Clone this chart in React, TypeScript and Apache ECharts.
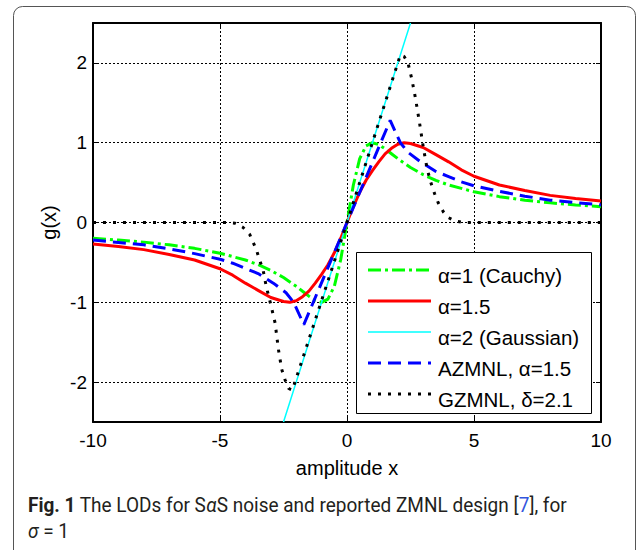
import React, { useEffect, useRef } from "react";
import * as echarts from "echarts";

// ---- data ----
const cauchyX = [-10, -9, -8, -7, -6, -5, -4, -3.5, -3, -2.5, -2, -1.75, -1.5, -1.25, -1, -0.75, -0.5, -0.25, 0, 0.25, 0.5, 0.75, 1, 1.25, 1.5, 1.75, 2, 2.5, 3, 3.5, 4, 5, 6, 7, 8, 9, 10];
const cauchyY = [-0.198, -0.22, -0.246, -0.28, -0.324, -0.385, -0.47, -0.528, -0.6, -0.69, -0.8, -0.862, -0.923, -0.976, -1.0, -0.96, -0.8, -0.47, 0, 0.47, 0.8, 0.96, 1.0, 0.976, 0.923, 0.862, 0.8, 0.69, 0.6, 0.528, 0.47, 0.385, 0.324, 0.28, 0.246, 0.22, 0.198];

const alpha15X = [-10, -9, -8, -7, -6, -5, -4.5, -4, -3.5, -3, -2.5, -2.25, -2, -1.75, -1.5, -1.25, -1, -0.75, -0.5, -0.25, 0, 0.25, 0.5, 0.75, 1, 1.25, 1.5, 1.75, 2, 2.25, 2.5, 3, 3.5, 4, 4.5, 5, 6, 7, 8, 9, 10];
const alpha15Y = [-0.27, -0.3, -0.34, -0.4, -0.47, -0.58, -0.66, -0.76, -0.85, -0.94, -0.99, -1.0, -0.98, -0.93, -0.86, -0.76, -0.65, -0.53, -0.38, -0.2, 0, 0.2, 0.38, 0.53, 0.65, 0.76, 0.86, 0.93, 0.98, 1.0, 0.99, 0.94, 0.85, 0.76, 0.66, 0.58, 0.47, 0.4, 0.34, 0.3, 0.27];

const gaussX = [-2.5, 0, 2.5];
const gaussY = [-2.5, 0, 2.5];

const azmnlX = [-10, -9, -8, -7, -6, -5, -4.5, -4, -3.5, -2.9, -2.4, -2.1, -1.7, 0, 1.7, 2.1, 2.4, 2.9, 3.5, 4, 4.5, 5, 6, 7, 8, 9, 10];
const azmnlY = [-0.22, -0.25, -0.28, -0.33, -0.39, -0.46, -0.51, -0.575, -0.64, -0.76, -0.88, -1.0, -1.28, 0, 1.28, 1.0, 0.88, 0.76, 0.64, 0.575, 0.51, 0.46, 0.39, 0.33, 0.28, 0.25, 0.22];

const gzmnlX = [-10, -4.75, -4.4, -4.1, -3.83, -3.57, -3.44, -3.3, -3.18, -3.0, -2.83, -2.7, -2.57, -2.44, -2.3, -2.15, 0, 2.1, 2.25, 2.4, 2.55, 2.7, 2.85, 3.0, 3.15, 3.3, 3.45, 3.6, 3.8, 4.0, 4.25, 4.6, 10];
const gzmnlY = [0, 0, -0.01, -0.06, -0.15, -0.34, -0.47, -0.6, -0.8, -1.03, -1.26, -1.59, -1.84, -1.97, -2.08, -2.1, 0, 2.1, 2.08, 2.0, 1.8, 1.55, 1.26, 0.95, 0.68, 0.5, 0.36, 0.24, 0.13, 0.06, 0.02, 0, 0];

const seriesNames = ["α=1 (Cauchy)", "α=1.5", "α=2 (Gaussian)", "AZMNL, α=1.5", "GZMNL, δ=2.1"];

const zip = (xs: number[], ys: number[]) => xs.map((x, i) => [x, ys[i]]);

const STYLES = [
  { color: "#00ff00", width: 3, type: [13, 4, 3, 4] as any },
  { color: "#ff0000", width: 3, type: "solid" as any },
  { color: "#00ffff", width: 1.5, type: "solid" as any },
  { color: "#0000ff", width: 3, type: [13, 7] as any },
  { color: "#000000", width: 3, type: [3, 7] as any },
];

const AXIS_FONT = "Liberation Sans";
const CAP_FONT = "Roboto";

export default function App() {
  const ref = useRef<HTMLDivElement>(null);
  useEffect(() => {
    if (!ref.current) return;
    const chart = echarts.init(ref.current, undefined, { renderer: "svg" });
    const datasets = [
      zip(cauchyX, cauchyY),
      zip(alpha15X, alpha15Y),
      zip(gaussX, gaussY),
      zip(azmnlX, azmnlY),
      zip(gzmnlX, gzmnlY),
    ];
    const legendLineY = [270, 301, 332, 363, 394];
    const legendTextY = [275, 306, 337, 368, 399];
    const legendChildren: any[] = [
      {
        type: "rect",
        z: 100,
        shape: { x: 356.5, y: 252.5, width: 235, height: 161 },
        style: { fill: "#fff", stroke: "#000", lineWidth: 1 },
      },
    ];
    seriesNames.forEach((n, i) => {
      legendChildren.push({
        type: "line",
        z: 101,
        shape: { x1: 368, y1: legendLineY[i], x2: 431, y2: legendLineY[i] },
        style: {
          stroke: STYLES[i].color,
          lineWidth: STYLES[i].width,
          lineDash: Array.isArray(STYLES[i].type) ? STYLES[i].type : null,
        },
      });
      legendChildren.push({
        type: "text",
        z: 101,
        x: 438,
        y: legendTextY[i],
        style: {
          text: n,
          fontSize: 20.5,
          fontFamily: AXIS_FONT,
          fill: "#000",
          verticalAlign: "middle",
        },
      });
    });

    const axisCommon = {
      axisLine: { show: true, onZero: false, lineStyle: { color: "#000", width: 2 } },
      axisTick: { show: true, inside: true, length: 5, lineStyle: { color: "#000", width: 1 } },
    };

    chart.setOption({
      animation: false,
      grid: { left: 93, right: 36, top: 23, bottom: 128, containLabel: false },
      xAxis: [
        {
          type: "value",
          min: -10,
          max: 10,
          interval: 5,
          ...axisCommon,
          name: "amplitude x",
          nameLocation: "middle",
          nameGap: 36,
          nameTextStyle: { fontSize: 20, fontFamily: AXIS_FONT, color: "#000" },
          axisLabel: { fontSize: 19, fontFamily: AXIS_FONT, color: "#000", margin: 9 },
          splitLine: { show: true, lineStyle: { color: "#000", width: 1, type: [2, 2] } },
        },
        {
          type: "value",
          position: "top",
          min: -10,
          max: 10,
          interval: 5,
          ...axisCommon,
          axisLabel: { show: false },
          splitLine: { show: false },
        },
      ],
      yAxis: [
        {
          type: "value",
          min: -2.5,
          max: 2.5,
          splitNumber: 5,
          ...axisCommon,
          name: "g(x)",
          nameLocation: "middle",
          nameGap: 20,
          nameTextStyle: { fontSize: 20, fontFamily: AXIS_FONT, color: "#000" },
          axisLabel: {
            fontSize: 19,
            fontFamily: AXIS_FONT,
            color: "#000",
            margin: 6,
            showMinLabel: false,
            showMaxLabel: false,
            formatter: (v: number) => (Number.isInteger(v) ? String(v) : ""),
          },
          splitLine: { show: true, lineStyle: { color: "#000", width: 1, type: [2, 2] } },
        },
        {
          type: "value",
          position: "right",
          min: -2.5,
          max: 2.5,
          splitNumber: 5,
          ...axisCommon,
          axisLabel: { show: false },
          splitLine: { show: false },
        },
      ],
      series: datasets.map((d, i) => ({
        type: "line",
        name: seriesNames[i],
        data: d,
        xAxisIndex: 0,
        yAxisIndex: 0,
        symbol: "none",
        showSymbol: false,
        clip: true,
        z: 2 + i,
        lineStyle: { color: STYLES[i].color, width: STYLES[i].width, type: STYLES[i].type, cap: "butt" },
      })),
      graphic: [
        {
          type: "rect",
          z: -10,
          shape: { x: 13.5, y: 6.5, width: 622, height: 620, r: 9 },
          style: { fill: "none", stroke: "#555", lineWidth: 1 },
        },
        { type: "group", z: 100, children: legendChildren },
        {
          type: "text",
          z: 100,
          x: 28,
          y: 505,
          scaleX: 0.905,
          style: {
            text: "{b|Fig. 1} The LODs for S{g|α}S noise and reported ZMNL design [{l|7}], for",
            fontFamily: CAP_FONT,
            fontSize: 21,
            fill: "#231f20",
            verticalAlign: "middle",
            rich: {
              b: { fontWeight: "bold", fontFamily: CAP_FONT, fontSize: 21, fill: "#231f20" },
              g: { fontStyle: "italic", fontFamily: CAP_FONT, fontSize: 21, fill: "#231f20" },
              l: { fontFamily: CAP_FONT, fontSize: 21, fill: "#3355dd" },
            },
          },
        },
        {
          type: "text",
          z: 100,
          x: 28,
          y: 531,
          scaleX: 0.905,
          style: {
            text: "{i|σ} = 1",
            fontFamily: CAP_FONT,
            fontSize: 21,
            fill: "#231f20",
            verticalAlign: "middle",
            rich: {
              i: { fontStyle: "italic", fontFamily: CAP_FONT, fontSize: 21, fill: "#231f20" },
            },
          },
        },
      ],
    });
    return () => chart.dispose();
  }, []);
  return (
    <div
      ref={ref}
      style={{ position: "fixed", left: 0, top: 0, width: 637, height: 550, background: "#fff" }}
    />
  );
}
